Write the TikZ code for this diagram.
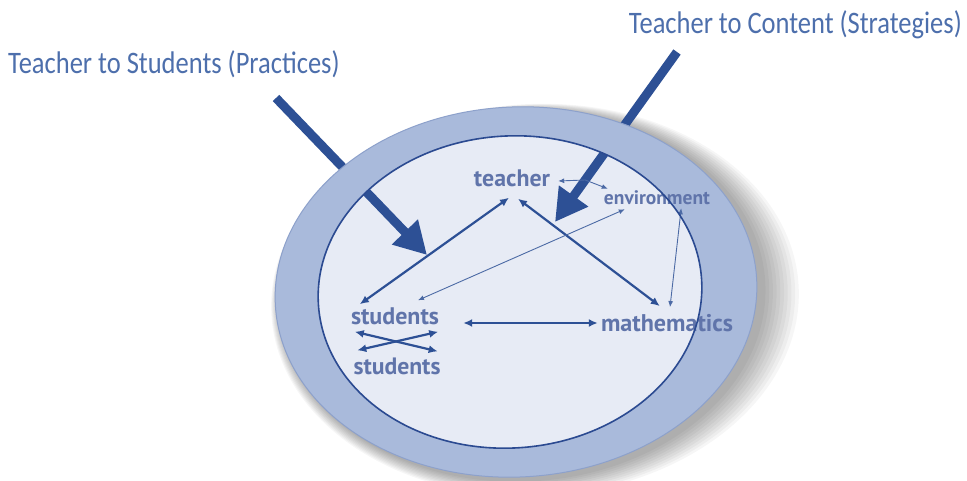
\documentclass[tikz,border=0pt]{standalone}
\usepackage{fontspec}
\setmainfont{Carlito}
\newfontfamily\labfont{PT Sans}
\usetikzlibrary{arrows.meta}
\definecolor{ringc}{HTML}{A9BADB}
\definecolor{ringedge}{HTML}{8DA1CB}
\definecolor{innerc}{HTML}{E7EBF5}
\definecolor{innerline}{HTML}{2B4A91}
\definecolor{arrowc}{HTML}{2D5095}
\definecolor{labc}{HTML}{6074AA}
\definecolor{titlec}{HTML}{4D6FAC}
\begin{document}
\begin{tikzpicture}[x=1pt,y=-1pt,
  lab/.style={text=labc, inner sep=0pt, font=\labfont\bfseries},
  titlebox/.style={text=titlec, inner sep=0pt, font=\fontsize{26.5}{30}\selectfont},
  link/.style={arrowc, line width=2.2pt, {Latex[length=9pt,width=8pt]}-{Latex[length=9pt,width=8pt]}},
  thinlink/.style={arrowc!85, line width=0.9pt, {Latex[length=6pt,width=5pt]}-{Latex[length=6pt,width=5pt]}},
  bigarrow/.style={arrowc, line width=9pt, -{Triangle[length=32pt,width=34pt]}},
  outerell/.style={x radius=241pt, y radius=185pt, rotate=3},
  innerell/.style={x radius=192pt, y radius=156pt, rotate=4}
]
\useasboundingbox (0,0) rectangle (967,481);
\fill[white] (0,0) rectangle (967,481);
% shadow
\foreach \i in {1,...,10}
  \fill[black, opacity=0.035] (521+\i*1.4,295+\i*0.5) ellipse [x radius={241pt+\i*2.3pt}, y radius={185pt+\i*1.1pt}, rotate=3];
% inner disc
\fill[innerc] (510,292) ellipse [innerell];
% titles
\node[titlebox, anchor=base west] (t1) at (8,74) {\scalebox{1}[1.18]{Teacher to Students (Practices)}};
\node[titlebox, anchor=base east] (t2) at (962,34) {\scalebox{1}[1.18]{Teacher to Content (Strategies)}};
% big arrows
\coordinate (a1s) at (276,98);
\coordinate (a1e) at (427,255);
\coordinate (a2s) at (677,52);
\coordinate (a2e) at (555,222);
\draw[bigarrow] (a1s) -- (a1e);
\draw[bigarrow] (a2s) -- (a2e);
% ring
\fill[ringc, even odd rule] (516,292) ellipse [outerell] (510,292) ellipse [innerell];
\draw[ringedge, line width=1pt] (516,292) ellipse [outerell];
% labels
\node[lab] (T) at (512,178) {\resizebox{76pt}{!}{teacher}};
\node[lab] (E) at (657,198) {\resizebox{106pt}{!}{environment}};
\node[lab] (S1) at (395,316) {\resizebox{88pt}{!}{students}};
\node[lab] (S2) at (397,366) {\resizebox{87pt}{!}{students}};
\node[lab] (M) at (667,323) {\resizebox{132pt}{!}{mathematics}};
% connectors
\draw[link] ([shift={(9,-3)}]S1.north west) -- ([shift={(-3,11)}]T.south);
\draw[link] ([shift={(6,12)}]T.south) -- ([shift={(59,-8)}]M.north west);
\draw[thinlink] ([shift={(21,4)}]E.south west) -- ([shift={(23,-7)}]S1.north);
\draw[thinlink] ([shift={(8,3)}]T.east) -- ([shift={(35,2)}]T.east) -- ([shift={(4,-2)}]E.north west);
\draw[thinlink] ([shift={(-29,3)}]E.south east) -- ([shift={(3,-7)}]M.north);
\draw[link] ([shift={(24,7)}]S1.east) -- ([shift={(-3,0)}]M.west);
\draw[link] ([shift={(4,7)}]S1.south west) -- ([shift={(-3,-6)}]S2.north east);
\draw[link] ([shift={(4,-7)}]S2.north west) -- ([shift={(-1,7)}]S1.south east);
% inner border on top
\draw[innerline, line width=1.6pt] (510,292) ellipse [innerell];
\end{tikzpicture}
\end{document}
